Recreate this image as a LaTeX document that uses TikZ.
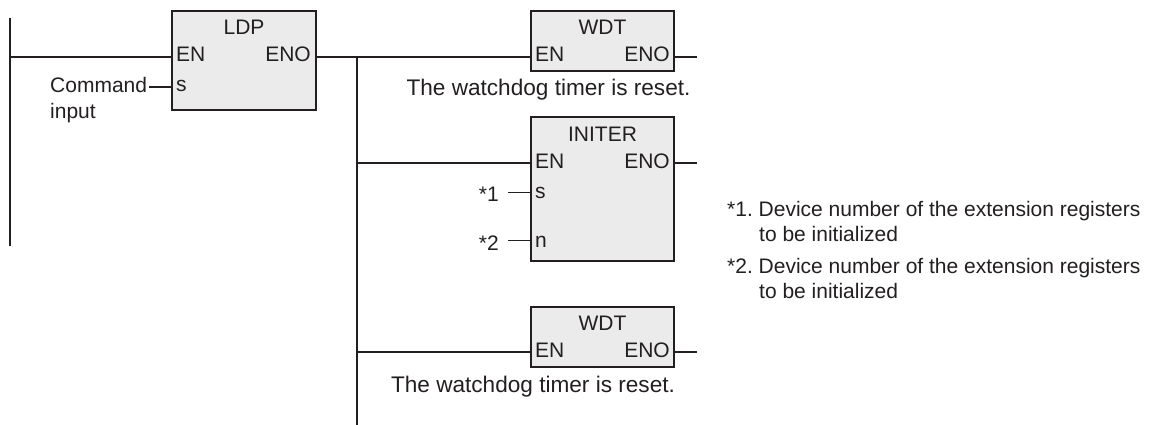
\documentclass[tikz,border=0pt]{standalone}
\usepackage{fontspec}
\setmainfont{Liberation Sans}
\usetikzlibrary{positioning}
\definecolor{ink}{HTML}{231F20}
\definecolor{boxgray}{HTML}{EBEBEB}

\begin{document}
\frenchspacing
\begin{tikzpicture}[
  x=1pt, y=-1pt,
  every node/.style={font=\fontsize{21}{25}\selectfont, text=ink, inner sep=0pt},
  wire/.style={draw=ink, line width=1.6pt},
  fblock/.style={draw=ink, fill=boxgray, line width=1.6pt, minimum width=143pt, inner sep=0pt},
  title/.style={anchor=base},
  pinleft/.style={anchor=base west},
  pinright/.style={anchor=base east},
  note/.style={anchor=base west, align=left},
  remark/.style={anchor=base, font=\fontsize{22.6}{27}\selectfont},
]
  \useasboundingbox (0,0) rectangle (1158,425);

  % rails
  \coordinate (railtop) at (10,18);
  \coordinate (railbot) at (10,246);
  \coordinate (railen) at (10,57);
  \coordinate (bustop) at (357,57);
  \coordinate (busmid) at (357,163);
  \coordinate (buslow) at (357,352);
  \coordinate (busbot) at (357,425);

  % function blocks
  \node[fblock, minimum width=144pt, minimum height=99pt] (ldp) at (244,60.5) {};
  \node[fblock, minimum height=60pt] (wdta) at (602.5,41) {};
  \node[fblock, minimum height=144pt] (initer) at (602.5,189) {};
  \node[fblock, minimum height=60pt] (wdtb) at (602.5,337) {};

  % block titles and pins
  \node[title] (ldpname) at (244,35) {LDP};
  \node[pinleft] (ldpen) at (176,62) {EN};
  \node[pinright] (ldpeno) at (311,62) {ENO};
  \node[pinleft] (ldps) at (176,92) {s};
  \node[title] (wdtaname) at (602.5,34.5) {WDT};
  \node[pinleft] (wdtaen) at (535,62) {EN};
  \node[pinright] (wdtaeno) at (670,62) {ENO};
  \node[title] (initername) at (602.5,141) {INITER};
  \node[pinleft] (initeren) at (535,168) {EN};
  \node[pinright] (initereno) at (670,168) {ENO};
  \node[pinleft] (initers) at (535,198) {s};
  \node[pinleft] (itern) at (535,247) {n};
  \node[title] (wdtbname) at (602.5,330) {WDT};
  \node[pinleft] (wdtben) at (535,357) {EN};
  \node[pinright] (wdtbeno) at (670,357) {ENO};

  % labels
  \node[note] (cmd) at (50,93) {Command};
  \node[note] (cmdb) at (50,118) {input};
  \node[anchor=base east] (stara) at (499,201) {*1};
  \node[anchor=base east] (starb) at (499,250) {*2};
  \node[remark] (wdtanote) at (548.5,96) {The watchdog timer is reset.};
  \node[remark] (wdtbnote) at (533,392) {The watchdog timer is reset.};
  \node[note] (n1) at (727,216) {*1. Device number of the extension registers};
  \node[note] (n1b) at (759,241) {to be initialized};
  \node[note] (n2) at (727,273) {*2. Device number of the extension registers};
  \node[note] (n2b) at (759,298) {to be initialized};

  % stub ends
  \coordinate (enda) at (697,57);
  \coordinate (endb) at (697,163);
  \coordinate (endc) at (697,352);

  \draw[wire] (railtop) -- (railbot);
  \draw[wire] (bustop) -- (busbot);
  \draw[wire] (railen) -- (ldp.west |- railen);
  \draw[wire] ([xshift=2pt]cmd.east |- 0,87) -- (ldp.west |- 0,87);
  \draw[wire] (ldp.east |- bustop) -- (wdta.west |- bustop);
  \draw[wire] (busmid) -- (initer.west |- busmid);
  \draw[wire] (buslow) -- (wdtb.west |- buslow);
  \draw[wire] (wdta.east |- enda) -- (enda);
  \draw[wire] (initer.east |- endb) -- (endb);
  \draw[wire] (wdtb.east |- endc) -- (endc);
  \draw[wire] (508,192.5) -- (initer.west |- 0,192.5);
  \draw[wire] (508,240.5) -- (initer.west |- 0,240.5);
\end{tikzpicture}
\end{document}
